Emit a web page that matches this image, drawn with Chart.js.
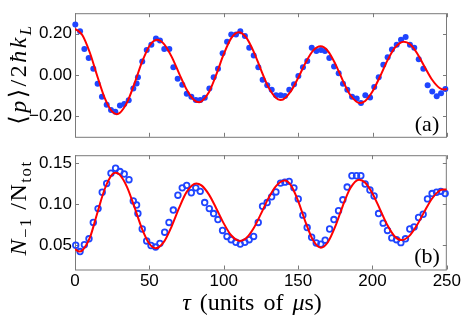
<!DOCTYPE html>
<html>
<head>
<meta charset="utf-8">
<script src="https://cdn.jsdelivr.net/npm/chart.js@4"></script>
<style>
  body { margin: 0; background: #fff; }
  #wrap { position: relative; width: 463px; height: 323px; overflow: hidden; }
  canvas { position: absolute; left: 0; }
  .lbl { position: absolute; font-family: "Liberation Serif", "DejaVu Serif", serif; color: #000; white-space: nowrap; line-height: 1; }
  .rot { transform: translate(-50%, -50%) rotate(-90deg); }
  .ctr { transform: translate(-50%, -50%); }
  sub { font-size: 70%; vertical-align: -0.3em; line-height: 0; }
</style>
</head>
<body>
<div id="wrap">
  <canvas id="chartA" width="463" height="150" style="top:0"></canvas>
  <canvas id="chartB" width="463" height="181" style="top:142px"></canvas>
  <div class="lbl rot" style="left:18px; top:74px; font-size:24px; letter-spacing:2.5px">⟨<i>p</i>⟩/2<i>ħk</i><sub><i>L</i></sub></div>
  <div class="lbl rot" style="left:18px; top:208px; font-size:24px; letter-spacing:1.5px"><i>N</i><sub>−1</sub> /N<sub>tot</sub></div>
  <div class="lbl ctr" style="left:252px; top:302px; font-size:24px; word-spacing:3px"><i>τ</i> (units of <i>μ</i>s)</div>
  <div class="lbl ctr" style="left:427px; top:124px; font-size:22px">(a)</div>
  <div class="lbl ctr" style="left:427px; top:256px; font-size:22px">(b)</div>
</div>
<script>
// panel (a): momentum, measured points
const tauA = [0.2, 3.4, 6.3, 9.2, 12.3, 15.2, 18.1, 21.3, 24.2, 27.1, 30.2, 33.1, 36.1, 39.2, 41.4, 42.3, 45.2, 48.2, 51.3, 54.4, 57.1, 60, 63.4, 66.1, 69, 72.1, 75.1, 78.2, 81.2, 84.2, 87.2, 90.3, 93.2, 96.1, 99.2, 102.2, 105, 108.2, 111.1, 114.2, 117.1, 120.1, 123.2, 126.1, 129.2, 132.2, 135.1, 138.2, 141.1, 144, 147.2, 150.1, 153.2, 156.1, 159.1, 162.2, 165.3, 168, 170.9, 174.1, 177.2, 180.1, 183, 186.2, 189.3, 192.2, 195.1, 198.3, 201.1, 204.1, 207.2, 210.1, 213, 216.2, 219.1, 222.2, 225.1, 228, 231, 234.1, 237, 240.1, 243.1, 246, 248.9];
const momA = [0.245, 0.212, 0.126, 0.083, 0.030, -0.042, -0.106, -0.144, -0.170, -0.179, -0.148, -0.141, -0.123, -0.065, -0.041, -0.011, 0.065, 0.121, 0.147, 0.177, 0.167, 0.126, 0.126, 0.038, -0.018, -0.047, -0.091, -0.106, -0.121, -0.121, -0.111, -0.065, -0.011, 0.030, 0.106, 0.162, 0.197, 0.197, 0.212, 0.189, 0.132, 0.095, 0.038, -0.023, -0.050, -0.071, -0.098, -0.098, -0.102, -0.071, -0.045, -0.005, 0.038, 0.068, 0.132, 0.117, 0.121, 0.117, 0.083, 0.041, 0.008, -0.042, -0.071, -0.106, -0.114, -0.136, -0.098, -0.109, -0.058, -0.011, 0.050, 0.086, 0.124, 0.147, 0.171, 0.185, 0.147, 0.132, 0.076, 0.030, -0.050, -0.080, -0.103, -0.088, -0.068];

// panel (a): fit curve
const tauFitA = [0, 5, 10, 15, 20, 25, 28, 30, 35, 40, 45, 50, 55, 60, 65, 70, 75, 80, 83.5, 85, 90, 95, 100, 105, 110, 115, 120, 125, 130, 135, 138, 140, 145, 150, 155, 160, 165, 170, 175, 180, 185, 191.5, 195, 200, 205, 210, 215, 221, 225, 230, 235, 240, 245, 248, 250];
const momFitA = [0.225, 0.193, 0.108, -0.006, -0.112, -0.178, -0.19, -0.185, -0.133, -0.041, 0.062, 0.141, 0.171, 0.149, 0.088, 0.007, -0.070, -0.121, -0.132, -0.129, -0.084, 0.003, 0.102, 0.179, 0.208, 0.183, 0.115, 0.025, -0.059, -0.111, -0.121, -0.118, -0.080, -0.014, 0.060, 0.118, 0.139, 0.116, 0.053, -0.027, -0.097, -0.136, -0.126, -0.079, -0.007, 0.071, 0.133, 0.162, 0.150, 0.104, 0.039, -0.023, -0.063, -0.070, -0.068];

// panel (b): population fraction, measured points
const tauB = [0.5, 3.4, 6.3, 9.4, 12.3, 15.5, 18.3, 21.3, 24.2, 27.3, 30.2, 33.1, 36.3, 39.2, 41.4, 42.3, 45.2, 48.2, 51.1, 54.2, 57.1, 60.3, 63.2, 66.1, 69.2, 72.1, 75.1, 78.2, 81.2, 84.2, 87.2, 90.3, 93.2, 96.1, 99.2, 102.2, 105, 108.2, 111.1, 114.2, 117.1, 120.1, 123.2, 126.1, 129.2, 132.2, 135.1, 138.2, 141.1, 144, 147.2, 150.1, 153.2, 156.1, 159.1, 162.2, 165.3, 168.2, 171.2, 174.1, 177.2, 180.1, 183, 186.2, 189.3, 192.2, 195.1, 198.3, 201.1, 204.1, 207.2, 210.1, 213, 216.2, 219.1, 222.2, 225.1, 228, 231, 234.1, 237, 240.1, 243.1, 246, 248.9];
const fracB = [0.0497, 0.042, 0.0504, 0.0576, 0.0776, 0.0946, 0.1146, 0.1254, 0.138, 0.144, 0.140, 0.137, 0.130, 0.104, 0.099, 0.0885, 0.0696, 0.055, 0.0494, 0.0475, 0.052, 0.0657, 0.0776, 0.0928, 0.111, 0.120, 0.123, 0.114, 0.120, 0.1157, 0.102, 0.0946, 0.0885, 0.0812, 0.0678, 0.0605, 0.0565, 0.0533, 0.0511, 0.0533, 0.0565, 0.0605, 0.0776, 0.0975, 0.102, 0.109, 0.115, 0.1258, 0.127, 0.128, 0.120, 0.1065, 0.0866, 0.0714, 0.0595, 0.0525, 0.0511, 0.0559, 0.0696, 0.0812, 0.092, 0.1054, 0.121, 0.1348, 0.1348, 0.1348, 0.1247, 0.1174, 0.110, 0.0885, 0.0768, 0.0678, 0.0587, 0.0565, 0.0529, 0.0576, 0.0696, 0.0722, 0.0837, 0.0877, 0.1065, 0.113, 0.1146, 0.1157, 0.113];

// panel (b): fit curve
const tauFitB = [0, 3, 5, 10, 15, 20, 25, 27.3, 30, 35, 40, 45, 50, 54.2, 60, 65, 70, 75, 81.5, 85, 90, 95, 100, 105, 111, 115, 120, 125, 130, 135, 141, 145, 150, 155, 160, 165.3, 170, 175, 180, 185, 191, 195, 200, 205, 210, 215, 219.5, 225, 230, 235, 240, 245, 248, 250];
const fracFitB = [0.045, 0.042, 0.0436, 0.059, 0.0893, 0.1186, 0.1364, 0.1385, 0.1362, 0.121, 0.0963, 0.0702, 0.0515, 0.046, 0.0545, 0.0729, 0.0954, 0.1148, 0.1254, 0.123, 0.112, 0.0948, 0.0765, 0.0619, 0.055, 0.0582, 0.0702, 0.0881, 0.1071, 0.1219, 0.129, 0.1236, 0.1042, 0.0781, 0.056, 0.0467, 0.0534, 0.0727, 0.0977, 0.1193, 0.130, 0.1265, 0.1132, 0.094, 0.0745, 0.0605, 0.056, 0.0615, 0.0745, 0.0912, 0.1067, 0.1164, 0.118, 0.1178];

const xTicks = [0, 50, 100, 150, 200, 250];
const yTicksA = [-0.2, 0, 0.2];
const yTicksB = [0.05, 0.10, 0.15];

const blue = '#1f45ff';
const red = '#ff0000';
const frameColor = '#7a7a7a';
const tickFont = { family: '"Liberation Sans", Arial, sans-serif', size: 17 };

function pts(xs, ys) { return xs.map((x, i) => ({ x: x, y: ys[i] })); }

// box around the plot area with inward ticks on all four sides
const framePlugin = {
  id: 'frame',
  beforeDatasetsDraw(chart) {
    const { ctx, chartArea: a, scales } = chart;
    const yt = chart.options.plugins.frame.yTicks;
    ctx.save();
    ctx.strokeStyle = frameColor;
    ctx.lineWidth = 1;
    ctx.strokeRect(a.left + 0.5, a.top + 0.5, a.right - a.left - 1, a.bottom - a.top);
    ctx.beginPath();
    xTicks.forEach(v => {
      const px = Math.round(scales.x.getPixelForValue(v)) + 0.5;
      ctx.moveTo(px, a.bottom); ctx.lineTo(px, a.bottom - 4);
      ctx.moveTo(px, a.top); ctx.lineTo(px, a.top + 4);
    });
    yt.forEach(v => {
      const py = Math.round(scales.y.getPixelForValue(v)) + 0.5;
      ctx.moveTo(a.left, py); ctx.lineTo(a.left + 4, py);
      ctx.moveTo(a.right, py); ctx.lineTo(a.right - 4, py);
    });
    ctx.stroke();
    ctx.restore();
  }
};

function yScale(min, max, ticks, digits) {
  return {
    type: 'linear', min: min, max: max,
    afterBuildTicks: s => { s.ticks = ticks.map(v => ({ value: v })); },
    afterFit: s => { s.width = 75; },
    grid: { display: false, drawTicks: false },
    border: { display: false },
    ticks: {
      color: '#000', font: tickFont, padding: 3,
      callback: v => (v < 0 ? '\u2212' : '') + Math.abs(v).toFixed(digits)
    }
  };
}

new Chart('chartA', {
  type: 'scatter',
  data: {
    datasets: [{
      data: pts(tauA, momA),
      backgroundColor: blue, borderColor: blue,
      pointRadius: 3, borderWidth: 0, clip: false, order: 2
    }, {
      type: 'line',
      data: pts(tauFitA, momFitA),
      borderColor: red, borderWidth: 2, pointRadius: 0,
      cubicInterpolationMode: 'monotone', fill: false, order: 1
    }]
  },
  options: {
    responsive: false, animation: false,
    layout: { padding: { top: 7, right: 16, bottom: 7.5, left: 0 } },
    plugins: { legend: { display: false }, tooltip: { enabled: false }, frame: { yTicks: yTicksA } },
    scales: {
      x: { type: 'linear', min: 0, max: 250, display: false },
      y: yScale(-0.3, 0.3, yTicksA, 2)
    }
  },
  plugins: [framePlugin]
});

new Chart('chartB', {
  type: 'scatter',
  data: {
    datasets: [{
      data: pts(tauB, fracB),
      backgroundColor: 'rgba(0,0,0,0)', borderColor: blue,
      pointRadius: 2.8, borderWidth: 1.8, clip: false, order: 2
    }, {
      type: 'line',
      data: pts(tauFitB, fracFitB),
      borderColor: red, borderWidth: 2, pointRadius: 0,
      cubicInterpolationMode: 'monotone', fill: false, order: 1
    }]
  },
  options: {
    responsive: false, animation: false,
    layout: { padding: { top: 0.5, right: 16, bottom: 0, left: 0 } },
    plugins: { legend: { display: false }, tooltip: { enabled: false }, frame: { yTicks: yTicksB } },
    scales: {
      x: {
        type: 'linear', min: 0, max: 250,
        afterBuildTicks: s => { s.ticks = xTicks.map(v => ({ value: v })); },
        afterFit: s => { s.height = 53.5; },
        grid: { display: false, drawTicks: false },
        border: { display: false },
        ticks: { color: '#000', font: tickFont, padding: 2, maxRotation: 0 }
      },
      y: yScale(0.02, 0.16, yTicksB, 2)
    }
  },
  plugins: [framePlugin]
});
</script>
</body>
</html>
